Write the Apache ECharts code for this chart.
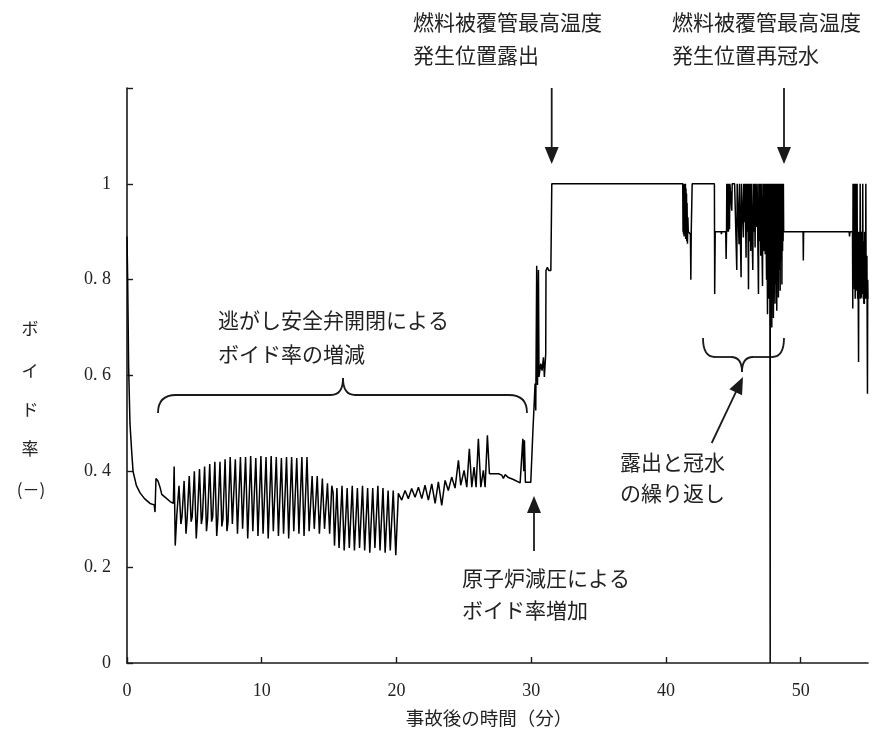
<!DOCTYPE html>
<html>
<head>
<meta charset="utf-8">
<script src="https://cdn.jsdelivr.net/npm/echarts@6/dist/echarts.min.js"></script>
<style>
  html, body { margin: 0; padding: 0; background: #fff; }
  #chart { width: 879px; height: 735px; }
</style>
</head>
<body>
<div id="chart"></div>
<script>
// Void fraction (-) versus time after the accident (min), [t, value] pairs per phase.
const initialTransient = [
  [0.00,0.890],[0.05,0.800],[0.12,0.620],[0.22,0.500],[0.35,0.440],[0.45,0.400],
  [0.70,0.370],[0.97,0.355],[1.30,0.343],[1.71,0.333],[2.02,0.330],[2.08,0.315],
  [2.15,0.385],[2.30,0.380],[2.45,0.367],[2.58,0.352],[2.95,0.343],[3.20,0.337],[3.44,0.333]
];
const srvCyclesEarly = [
  [3.50,0.410],[3.58,0.245],[3.70,0.310],[3.86,0.370],[4.00,0.290],[4.08,0.305],
  [4.24,0.380],[4.38,0.270],[4.46,0.300],[4.62,0.390],[4.76,0.295],[4.84,0.305],
  [5.00,0.400],[5.14,0.260],[5.22,0.300],[5.38,0.405],[5.52,0.290],[5.60,0.305],
  [5.76,0.410],[5.90,0.275],[5.98,0.300],[6.14,0.415],[6.28,0.295],[6.36,0.305],
  [6.52,0.420],[6.66,0.265],[6.74,0.300],[6.90,0.420],[7.04,0.285],[7.12,0.300],
  [7.28,0.425],[7.42,0.275],[7.50,0.295],[7.66,0.430],[7.82,0.290],[8.04,0.425],
  [8.20,0.270],[8.42,0.430],[8.58,0.280],[8.80,0.430],[8.96,0.260],[9.18,0.432],
  [9.34,0.275],[9.56,0.428],[9.72,0.265],[9.94,0.432],[10.10,0.270],[10.32,0.430],
  [10.48,0.260],[10.70,0.432],[10.86,0.275],[11.08,0.430],[11.24,0.265],[11.46,0.428],
  [11.62,0.270],[11.84,0.430],[12.00,0.260],[12.22,0.430],[12.38,0.275],[12.60,0.428],
  [12.76,0.270],[12.98,0.430],[13.14,0.265],[13.36,0.430],[13.52,0.275]
];
const srvCyclesLate = [
  [13.74,0.390],[13.90,0.280],[14.12,0.390],[14.28,0.270],[14.50,0.385],[14.66,0.280],
  [14.88,0.375],[15.04,0.270],[15.20,0.370],[15.30,0.355],[15.40,0.245],[15.58,0.365],
  [15.74,0.240],[15.96,0.370],[16.12,0.235],[16.34,0.365],[16.50,0.240],[16.72,0.370],
  [16.88,0.235],[17.10,0.365],[17.26,0.240],[17.48,0.370],[17.64,0.235],[17.86,0.365],
  [18.02,0.230],[18.24,0.365],[18.40,0.240],[18.62,0.370],[18.78,0.235],[19.00,0.365],
  [19.16,0.230],[19.38,0.360],[19.54,0.235],[19.76,0.360],[19.95,0.225]
];
const srvCyclesSmall = [
  [20.14,0.354],[20.39,0.340],[20.64,0.360],[20.88,0.343],[21.13,0.364],[21.38,0.346],
  [21.63,0.367],[21.88,0.343],[22.12,0.371],[22.37,0.340],[22.62,0.374],[22.87,0.333],
  [23.11,0.378],[23.36,0.329],[23.61,0.381],[23.85,0.360],[24.10,0.388],[24.35,0.365],
  [24.60,0.423],[24.77,0.371],[25.02,0.402],[25.22,0.367],[25.41,0.447],[25.59,0.367],
  [25.76,0.409],[25.91,0.367],[26.08,0.468],[26.26,0.367],[26.45,0.402],[26.58,0.367],
  [26.75,0.475],[26.90,0.395],[27.07,0.395],[27.57,0.395],[27.82,0.392],[27.94,0.385],
  [28.06,0.393],[28.31,0.387],[28.68,0.383],[29.18,0.376],[29.30,0.378],[29.38,0.468],
  [29.45,0.400],[29.50,0.465],[29.57,0.377],[29.97,0.377]
];
const depressurization = [
  [30.04,0.380],[30.12,0.479],[30.22,0.540],[30.29,0.583],[30.34,0.527],[30.41,0.829],
  [30.47,0.580],[30.54,0.820],[30.58,0.597],[30.71,0.625],[30.81,0.610],[30.91,0.638],
  [30.98,0.597],[31.08,0.646],[31.10,0.819],[31.20,0.826],[31.30,0.819],[31.46,0.819],
  [31.53,1.000]
];
const coreUncovered = [[41.25,1.000]];
const refloodBurst1 = [
  [41.27,0.900],[41.29,1.000],[41.31,0.895],[41.33,1.000],[41.35,0.890],[41.37,1.000],
  [41.39,0.900],[41.41,1.000],[41.43,0.895],[41.45,1.000],[41.47,0.885],[41.49,0.990],
  [41.51,0.890],[41.53,0.980],[41.55,0.880],[41.57,0.960],[41.60,0.875],[41.63,0.930],
  [41.66,0.900],[41.75,0.900],[41.82,0.895],[41.85,0.800],[41.88,0.900],[41.93,0.900],
  [41.95,1.000],
  [43.60,1.000],[43.62,0.770],[43.66,0.900],[44.10,0.900],[44.12,0.895],[44.14,0.900],
  [44.44,0.900],[44.47,0.843],[44.50,0.900],[44.52,1.000]
];
const refloodBurst2 = [
  [44.55,0.900],[44.57,1.000],[44.60,0.905],[44.62,1.000],[44.64,0.900],[44.67,1.000],
  [44.72,0.905],[44.75,1.000],
  [44.89,0.944],[44.92,1.000],[45.10,1.000],[45.26,0.820],[45.29,1.000],[45.43,0.874],
  [45.46,1.000],[45.58,0.805],[45.61,1.000],[45.75,0.888],[45.78,1.000],[45.86,0.920],
  [45.88,1.000],[45.95,0.846],[45.98,1.000],[46.05,0.900],[46.07,1.000],[46.13,0.780],
  [46.16,1.000],[46.22,0.880],[46.24,1.000],[46.30,0.860],[46.33,1.000],[46.45,0.820],
  [46.48,1.000],[46.55,0.900],[46.57,1.000],[46.62,0.867],[46.65,1.000],[46.75,0.910],
  [46.77,1.000],[46.87,0.770],[46.90,1.000],[46.97,0.880],[46.99,1.000],[47.04,0.850],
  [47.07,1.000],[47.17,0.787],[47.20,1.000],[47.28,0.860],[47.30,1.000],[47.37,0.853],
  [47.40,1.000],[47.47,0.800],[47.49,1.000],[47.54,0.728],[47.57,1.000],[47.62,0.760],
  [47.64,1.000],[47.68,0.800],[47.70,1.000],[47.72,0.720],[47.74,0.000],[47.745,0.730],
  [47.76,1.000],[47.78,0.760],[47.80,1.000],[47.82,0.740],[47.84,1.000],[47.86,0.700],
  [47.88,1.000],[47.90,0.760],[47.92,1.000],[47.94,0.780],[47.96,1.000],[47.98,0.720],
  [48.00,1.000],[48.02,0.770],[48.04,1.000],[48.06,0.800],[48.08,1.000],[48.10,0.750],
  [48.12,0.980],[48.14,0.790],[48.16,1.000],[48.18,0.820],[48.20,1.000],[48.23,0.735],
  [48.25,1.000],[48.27,0.800],[48.29,1.000],[48.31,0.850],[48.33,1.000],[48.35,0.763],
  [48.37,1.000],[48.40,0.820],[48.42,1.000],[48.44,0.860],[48.46,1.000],[48.48,0.777],
  [48.50,1.000],[48.53,0.840],[48.55,1.000],[48.57,0.880],[48.59,1.000],[48.61,0.790],
  [48.63,1.000],[48.66,0.860],[48.68,1.000],[48.70,0.880],[48.72,1.000],[48.74,0.900]
];
const refloodedLevel = [
  [49.00,0.900],[49.02,0.896],[49.04,0.900],[49.40,0.900],[49.42,0.896],[49.44,0.900],
  [49.80,0.900],[49.82,0.897],[49.84,0.900],[50.18,0.900],[50.20,0.840],[50.22,0.900],
  [50.60,0.900],[50.62,0.896],[50.64,0.900],[51.00,0.900],[51.02,0.897],[51.04,0.900],
  [51.40,0.900],[51.42,0.896],[51.44,0.900],[51.80,0.900],[51.82,0.897],[51.84,0.900],
  [52.20,0.900],[52.22,0.896],[52.24,0.900],[52.60,0.900],[52.62,0.897],[52.64,0.900],
  [53.00,0.900],[53.02,0.896],[53.04,0.900],[53.40,0.900],[53.42,0.897],[53.44,0.900],
  [53.60,0.900],[53.63,0.890],[53.66,0.900],[53.85,0.900]
];
const refloodBurst3 = [
  [53.87,0.740],[53.89,1.000],[53.91,0.800],[53.93,0.900],[53.95,1.000],[53.97,0.850],
  [53.99,0.780],[54.01,1.000],[54.03,0.820],[54.05,0.760],[54.07,0.900],[54.09,0.780],
  [54.11,1.000],[54.13,0.800],[54.15,0.850],[54.17,0.777],[54.19,1.000],[54.21,0.820],
  [54.23,0.760],[54.25,0.900],[54.27,0.790],[54.30,0.628],[54.32,0.850],[54.34,0.760],
  [54.36,0.900],[54.38,0.780],[54.40,0.820],[54.42,1.000],[54.44,0.800],[54.46,0.760],
  [54.48,0.880],[54.50,0.763],[54.52,0.900],[54.54,0.780],[54.56,0.820],[54.58,0.770],
  [54.61,1.000],[54.63,0.820],[54.65,0.760],[54.67,0.880],[54.69,0.750],[54.71,0.830],
  [54.73,0.749],[54.75,0.900],[54.77,0.780],[54.80,0.800],[54.82,0.760],[54.84,1.000],
  [54.86,0.780],[54.88,0.850],[54.90,0.760],[54.92,0.850],[54.94,0.700],[54.96,0.562],
  [54.98,0.800],[55.00,0.760]
];

const xTicks = [0, 10, 20, 30, 40, 50];
const yTicks = [0, 0.2, 0.4, 0.6, 0.8, 1.0, 1.2];

const voidFraction = [].concat(
  initialTransient, srvCyclesEarly, srvCyclesLate, srvCyclesSmall,
  depressurization, coreUncovered, refloodBurst1, refloodBurst2,
  refloodedLevel, refloodBurst3
);

const JP = '"Noto Sans CJK JP", sans-serif';
const NUM = '"Liberation Serif", "DejaVu Serif", serif';
const INK = '#1a1a1a';

function fmtY(v) {
  if (v > 1.1) return '';
  if (Math.abs(v) < 1e-9) return '0';
  if (Math.abs(v - 1) < 1e-9) return '1';
  return v.toFixed(1).replace('.', '. ');
}

// annotation helpers (pixel space)
function seg(x1, y1, x2, y2, w) {
  return { type: 'line', shape: { x1, y1, x2, y2 }, style: { stroke: INK, lineWidth: w || 1.8 }, silent: true };
}
function quad(x1, y1, cx, cy, x2, y2) {
  return { type: 'bezierCurve', shape: { x1, y1, cpx1: cx, cpy1: cy, x2, y2 }, style: { stroke: INK, lineWidth: 1.8, fill: null }, silent: true };
}
function arrow(x1, y1, x2, y2) {
  const dx = x2 - x1, dy = y2 - y1, len = Math.hypot(dx, dy);
  const ux = dx / len, uy = dy / len, hl = 17, hw = 7;
  const bx = x2 - ux * hl, by = y2 - uy * hl;
  return [
    seg(x1, y1, bx + ux * 2, by + uy * 2, 1.8),
    { type: 'polygon', shape: { points: [[x2, y2], [bx - uy * hw, by + ux * hw], [bx + uy * hw, by - ux * hw]] },
      style: { fill: INK }, silent: true }
  ];
}
function label(text, x, y, size, lh, align) {
  return { type: 'text', x, y, silent: true,
    style: { text, font: size + 'px ' + JP, fill: '#222', lineHeight: lh, align: align || 'left', verticalAlign: 'top' } };
}

const graphics = [].concat(
  label('燃料被覆管最高温度\n発生位置露出', 413, 6, 21, 33),
  label('燃料被覆管最高温度\n発生位置再冠水', 672, 6, 21, 33),
  arrow(551.7, 88, 551.7, 164),
  arrow(784, 88, 784, 164),
  label('逃がし安全弁開閉による\nボイド率の増減', 218, 303, 21, 34),
  // brace over the relief-valve cycling
  quad(158, 413, 158, 395, 176, 395), seg(176, 395, 331, 395),
  quad(331, 395, 343, 395, 343, 378), quad(343, 378, 343, 395, 355, 395),
  seg(355, 395, 509, 395), quad(509, 395, 527, 395, 527, 413),
  label('原子炉減圧による\nボイド率増加', 462, 562, 21, 32),
  arrow(534, 551, 534, 496),
  // brace under the uncover / reflood bursts
  quad(703, 338, 703, 357, 715, 357), seg(715, 357, 731, 357),
  quad(731, 357, 742, 357, 742, 372), quad(742, 372, 742, 357, 753, 357),
  seg(753, 357, 772, 357), quad(772, 357, 784, 357, 784, 338),
  arrow(711.7, 443, 743, 377),
  label('露出と冠水\nの繰り返し', 620, 447, 21, 31),
  // y-axis title, one glyph per row
  label('ボ', 30, 319, 17, 20, 'center'),
  label('イ', 30, 361, 17, 20, 'center'),
  label('ド', 30, 400, 17, 20, 'center'),
  label('率', 30, 439, 17, 20, 'center'),
  label('(－)', 31, 480, 17, 20, 'center'),
  label('事故後の時間（分）', 489, 708, 18.5, 20, 'center')
);

const chart = echarts.init(document.getElementById('chart'), null, { renderer: 'canvas' });
chart.setOption({
  animation: false,
  backgroundColor: '#ffffff',
  grid: { left: 127, right: 11, top: 88, bottom: 72 },
  xAxis: {
    type: 'value', min: 0, max: 55, interval: 10,
    axisLine: { lineStyle: { color: INK, width: 1.6 } },
    axisTick: { inside: true, length: 6, lineStyle: { color: INK, width: 1.4 }, customValues: xTicks },
    axisLabel: { customValues: xTicks, margin: 19, fontFamily: NUM, fontSize: 18, color: '#222' },
    splitLine: { show: false }
  },
  yAxis: {
    type: 'value', min: 0, max: 1.2, interval: 0.2,
    axisLine: { show: true, lineStyle: { color: INK, width: 1.6 } },
    axisTick: { show: true, inside: true, length: 6, lineStyle: { color: INK, width: 1.4 }, customValues: yTicks },
    axisLabel: { margin: 16, fontFamily: NUM, fontSize: 18, color: '#222', formatter: fmtY },
    splitLine: { show: false }
  },
  series: [{
    type: 'line',
    data: voidFraction,
    showSymbol: false,
    symbol: 'none',
    lineStyle: { color: '#000', width: 1.5 },
    clip: true
  }],
  graphic: { elements: graphics }
});
</script>
</body>
</html>
